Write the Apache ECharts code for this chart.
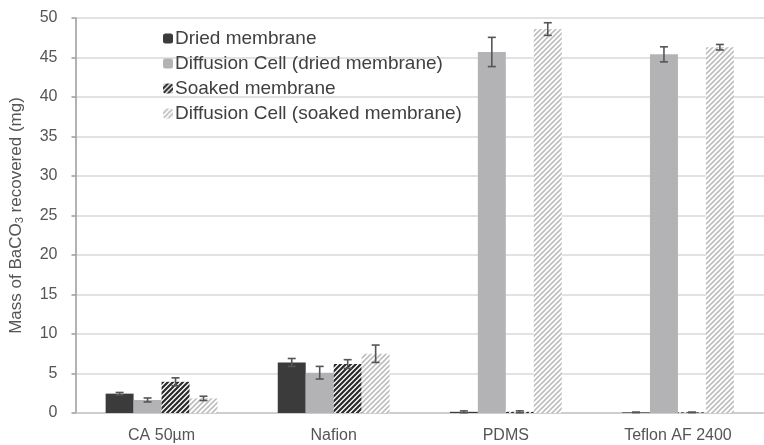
<!DOCTYPE html>
<html><head><meta charset="utf-8">
<script src="https://cdn.jsdelivr.net/npm/echarts@6/dist/echarts.min.js"></script>
<style>html,body{margin:0;padding:0;background:#fff}#c{width:764px;height:445px}</style>
</head><body><div id="c"></div>
<script>
const categories = ['CA 50µm', 'Nafion', 'PDMS', 'Teflon AF 2400'];
const seriesNames = ['Dried membrane', 'Diffusion Cell (dried membrane)', 'Soaked membrane', 'Diffusion Cell (soaked membrane)'];
const driedVals = [2.45, 6.4, 0.15, 0.08];
const driedErr = [0.15, 0.5, 0.12, 0.03];
const diffDriedVals = [1.65, 5.1, 45.7, 45.4];
const diffDriedErr = [0.25, 0.8, 1.85, 0.95];
const soakedVals = [3.95, 6.2, 0.15, 0.08];
const soakedErr = [0.5, 0.55, 0.12, 0.03];
const diffSoakedVals = [1.85, 7.5, 48.6, 46.3];
const diffSoakedErr = [0.27, 1.1, 0.8, 0.35];
const yTicks = [0, 5, 10, 15, 20, 25, 30, 35, 40, 45, 50];

function hatch(fg, bg, lw) {
  const s = 5;
  const c = document.createElement('canvas');
  c.width = s; c.height = s;
  const g = c.getContext('2d');
  g.fillStyle = bg; g.fillRect(0, 0, s, s);
  g.strokeStyle = fg; g.lineWidth = lw; g.lineCap = 'square';
  g.beginPath();
  for (let k = -1; k <= 1; k++) {
    g.moveTo(k * s, s); g.lineTo(k * s + s, 0);
  }
  g.stroke();
  return { image: c, repeat: 'repeat' };
}

const colors = ['#3b3b3b', '#b3b3b5', hatch('#2a2a2a', '#ffffff', 2.2), hatch('#bdbdbd', '#ffffff', 1.6)];
const vals = [driedVals, diffDriedVals, soakedVals, diffSoakedVals];
const errs = [driedErr, diffDriedErr, soakedErr, diffSoakedErr];

const errData = [];
vals.forEach((v, si) => v.forEach((val, ci) => {
  errData.push([ci, si, val - errs[si][ci], val + errs[si][ci]]);
}));

const chart = echarts.init(document.getElementById('c'), null, { renderer: 'canvas' });
const font = 'Liberation Sans, Arial, sans-serif';
const series = seriesNames.map((n, i) => ({
  name: n, type: 'bar', data: vals[i], barGap: '0%', barCategoryGap: '35%',
  itemStyle: { color: colors[i] }, z: 2
}));
series.push({
  type: 'custom', name: 'err', z: 5, silent: true,
  data: errData,
  encode: { x: 0, y: [2, 3] },
  renderItem: function (params, api) {
    const ci = api.value(0), si = api.value(1);
    const band = api.size([1, 0])[0];
    const w = band * 0.65 / 4;
    const lo = api.coord([ci, api.value(2)]);
    const hi = api.coord([ci, api.value(3)]);
    const x = lo[0] + (si - 1.5) * w;
    const cap = 4;
    const st = { stroke: '#555555', lineWidth: 1.6 };
    return { type: 'group', children: [
      { type: 'line', shape: { x1: x, y1: lo[1], x2: x, y2: hi[1] }, style: st },
      { type: 'line', shape: { x1: x - cap, y1: lo[1], x2: x + cap, y2: lo[1] }, style: st },
      { type: 'line', shape: { x1: x - cap, y1: hi[1], x2: x + cap, y2: hi[1] }, style: st }
    ]};
  }
});

chart.setOption({
  animation: false,
  textStyle: { fontFamily: font },
  grid: { left: 75, right: -12, top: 18, bottom: 32, containLabel: false },
  legend: {
    data: seriesNames, orient: 'vertical', left: 163, top: 29, padding: 0,
    itemWidth: 10, itemHeight: 10, itemGap: 6,
    textStyle: { fontSize: 19, lineHeight: 19, color: '#404040', fontFamily: font, padding: [0, 0, 0, -3] }
  },
  xAxis: {
    type: 'category', data: categories,
    axisLine: { lineStyle: { color: '#c8c8c8', width: 1.5 } },
    axisTick: { show: false },
    axisLabel: { fontSize: 16, color: '#555555', margin: 15 }
  },
  yAxis: {
    type: 'value', min: 0, max: 50, interval: 5,
    name: 'Mass of BaCO{sub|3} recovered (mg)',
    nameLocation: 'middle', nameGap: 50, nameRotate: 90,
    nameTextStyle: { fontSize: 17, color: '#555555', rich: { sub: { fontSize: 11, verticalAlign: 'bottom', padding: [7, 0, 0, 0], color: '#555555' } } },
    axisLine: { show: true, lineStyle: { color: '#9a9a9a', width: 1.5 } },
    axisTick: { show: true, length: 4, lineStyle: { color: '#9a9a9a', width: 1.5 } },
    axisLabel: { fontSize: 16, color: '#555555', margin: 18, formatter: v => yTicks.includes(v) ? String(v) : '' },
    splitLine: { lineStyle: { color: '#d9d9d9', width: 1.5 } }
  },
  series: series
});
</script></body></html>
